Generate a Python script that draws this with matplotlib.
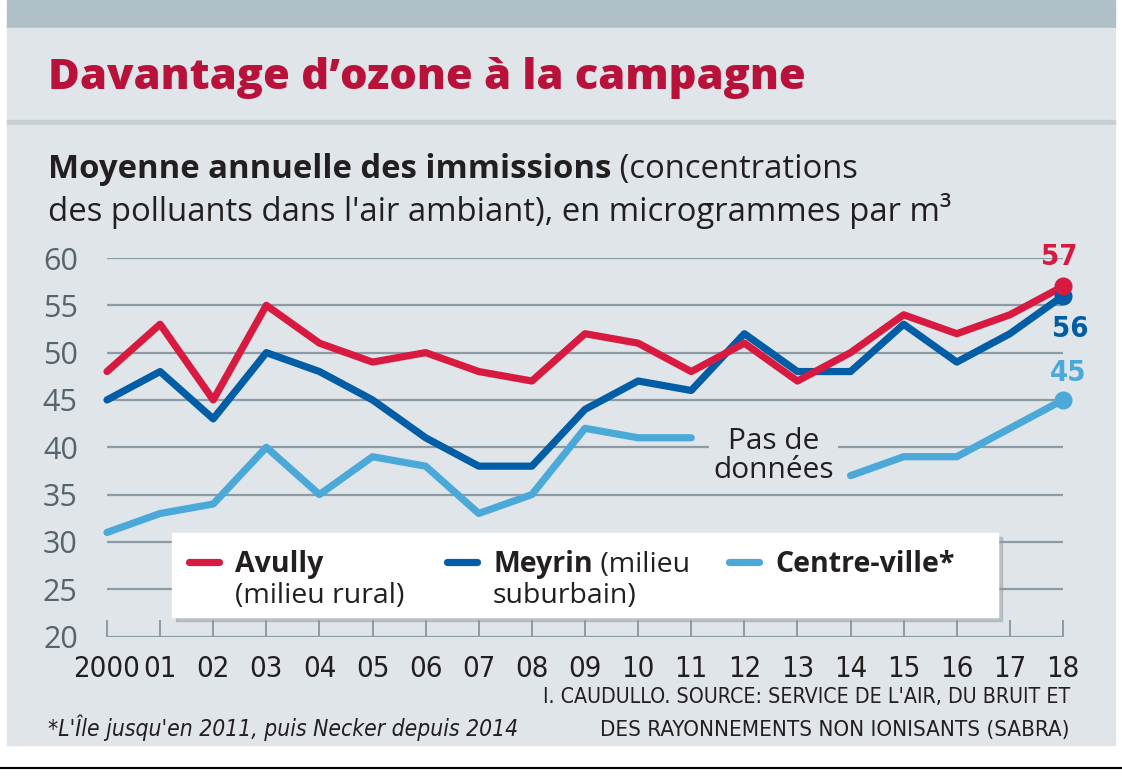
import matplotlib
matplotlib.use("Agg")
import matplotlib.pyplot as plt
from matplotlib import font_manager
from matplotlib.lines import Line2D
from matplotlib.patches import Rectangle
import numpy as np

W, H = 1122, 776

years = list(range(2000, 2019))
tick_labels = ["2000"] + [f"{y % 100:02d}" for y in years[1:]]
avully = [48, 53, 45, 55, 51, 49, 50, 48, 47, 52, 51, 48, 51, 47, 50, 54, 52, 54, 57]
meyrin = [45, 48, 43, 50, 48, 45, 41, 38, 38, 44, 47, 46, 52, 48, 48, 53, 49, 52, 56]
centre = [31, 33, 34, 40, 35, 39, 38, 33, 35, 42, 41, 41, np.nan, np.nan, 37, 39, 39, 42, 45]

RED = "#d81a40"
DARK = "#005da6"
LIGHT = "#4ba9da"
TITLE_RED = "#b9123a"
BG = "#dfe5e9"
GRID = "#8c9ba4"
TXT = "#231f20"

fonts = font_manager.fontManager.ttflist
names = {f.name for f in fonts}
MAIN = ["Open Sans", "DejaVu Sans"] if "Open Sans" in names else ["DejaVu Sans"]
has_cond = any(f.name == "DejaVu Sans" and f.stretch == "condensed" for f in fonts)
NARROW = dict(family=["DejaVu Sans"], stretch="condensed") if has_cond else dict(family=MAIN)
plt.rcParams["font.family"] = MAIN


def fx(px):
    return px / W


def fy(py):
    return 1 - py / H


fig = plt.figure(figsize=(W / 100, H / 100), dpi=100, facecolor="white")
fig.canvas.draw()
rend = fig.canvas.get_renderer()


def fit(t, width):
    # shrink or grow a text so that it spans the given pixel width
    w = t.get_window_extent(rend).width
    t.set_fontsize(t.get_fontsize() * width / w)
    return t


def band(x0, y0, x1, y1, color, z=-5, alpha=1.0):
    fig.patches.append(Rectangle((fx(x0), fy(y1)), fx(x1) - fx(x0), fy(y0) - fy(y1),
                                 transform=fig.transFigure, color=color, zorder=z, alpha=alpha))


band(7, 0, 1115, 28, "#afc0c9")
band(7, 28, 1115, 120, BG)
band(7, 120, 1115, 125, "#c6d0d5")
band(7, 125, 1115, 745, BG)
fig.add_artist(Line2D([fx(0), fx(1122)], [fy(768), fy(768)], color="black", lw=1.5,
                      transform=fig.transFigure))

ax = fig.add_axes([fx(107), fy(636.5), fx(1063) - fx(107), fy(258) - fy(636.5)])
ax.set_zorder(1)
ax.set_facecolor("none")
ax.set_xlim(2000, 2018)
ax.set_ylim(20, 60)
for s in ax.spines.values():
    s.set_visible(False)
for v in range(20, 61, 5):
    ax.axhline(v, color=GRID, lw=1.6, zorder=1)

ax.set_yticks(range(20, 61, 5))
ax.tick_params(axis="y", length=0, pad=21, labelsize=22, labelcolor="#55646d")
ax.set_xticks(years)
ax.set_xticklabels(tick_labels, **NARROW)
ax.tick_params(axis="x", direction="in", length=12, width=1.4, color=GRID,
               labelsize=21, labelcolor=TXT, pad=13)

kw = dict(lw=5.2, solid_capstyle="round", clip_on=False, zorder=3)
ax.plot(years, centre, color=LIGHT, **kw)
ax.plot(years, meyrin, color=DARK, **kw)
ax.plot(years, avully, color=RED, **kw)
for series, col in [(centre, LIGHT), (meyrin, DARK), (avully, RED)]:
    ax.plot(years[-1], series[-1], "o", color=col, ms=12, clip_on=False, zorder=4)

ax.annotate(f"{avully[-1]}", (years[-1], avully[-1]), xytext=(-3, 11), textcoords="offset points",
            ha="center", va="bottom", color=RED, fontsize=21, fontweight="bold", **NARROW)
ax.annotate(f"{meyrin[-1]}", (years[-1], meyrin[-1]), xytext=(5, -14), textcoords="offset points",
            ha="center", va="top", color=DARK, fontsize=21, fontweight="bold", **NARROW)
ax.annotate(f"{centre[-1]}", (years[-1], centre[-1]), xytext=(4, 9), textcoords="offset points",
            ha="center", va="bottom", color=LIGHT, fontsize=21, fontweight="bold", **NARROW)

ax.text(2012.55, 39.1, "Pas de\ndonnées", ha="center", va="center", fontsize=21.5, color=TXT,
        linespacing=1.0, zorder=2,
        bbox=dict(boxstyle="square,pad=0.15", fc=BG, ec="none"))

# legend box
band(176, 537, 1002, 621, "#8e989e", z=5, alpha=0.45)
band(172, 533, 998, 617, "white", z=6)
legend_items = [(RED, 185, "Avully", "", "(milieu rural)"),
                (DARK, 443, "Meyrin", " (milieu", "suburbain)"),
                (LIGHT, 725, "Centre-ville*", "", "")]
LEG_FS = 20.5
for col, x0, bold, rest, line2 in legend_items:
    fig.add_artist(Line2D([fx(x0 + 4), fx(x0 + 34)], [fy(562), fy(562)], color=col, lw=5.2,
                          solid_capstyle="round", transform=fig.transFigure, zorder=7))
    t = fig.text(fx(x0 + 50), fy(572), bold, fontsize=LEG_FS, fontweight="bold", color=TXT,
                 va="baseline", zorder=7)
    if rest:
        bb = t.get_window_extent(rend)
        fig.text(bb.x1 / W, fy(572), rest, fontsize=LEG_FS, color=TXT, va="baseline", zorder=7)
    if line2:
        fig.text(fx(x0 + 50), fy(603), line2, fontsize=LEG_FS, color=TXT, va="baseline", zorder=7)

# titles
title = fig.text(fx(48), fy(89), "Davantage d\u2019ozone à la campagne", fontsize=30,
                 fontweight=800, color=TITLE_RED, va="baseline")
fit(title, 757)
t = fig.text(fx(48), fy(178), "Moyenne annuelle des immissions", fontsize=21, fontweight="bold",
             color=TXT, va="baseline")
fit(t, 562)
bb = t.get_window_extent(rend)
fig.text(bb.x1 / W, fy(178), " (concentrations", fontsize=t.get_fontsize(), color=TXT,
         va="baseline")
t2 = fig.text(fx(48), fy(221), "des polluants dans l'air ambiant), en microgrammes par m³",
              fontsize=21, color=TXT, va="baseline")
fit(t2, 905)

# footnotes
f1 = fig.text(fx(1070), fy(703), "I. CAUDULLO. SOURCE: SERVICE DE L'AIR, DU BRUIT ET",
              fontsize=15, color=TXT, ha="right", va="baseline", **NARROW)
fit(f1, 530)
f2 = fig.text(fx(1070), fy(736), "DES RAYONNEMENTS NON IONISANTS (SABRA)", fontsize=15,
              color=TXT, ha="right", va="baseline", **NARROW)
fit(f2, 470)
f3 = fig.text(fx(48), fy(736), "*L'Île jusqu'en 2011, puis Necker depuis 2014", fontsize=15,
              color=TXT, ha="left", va="baseline", style="italic", **NARROW)
fit(f3, 470)

fig.savefig("out.png", dpi=100, facecolor="white")
